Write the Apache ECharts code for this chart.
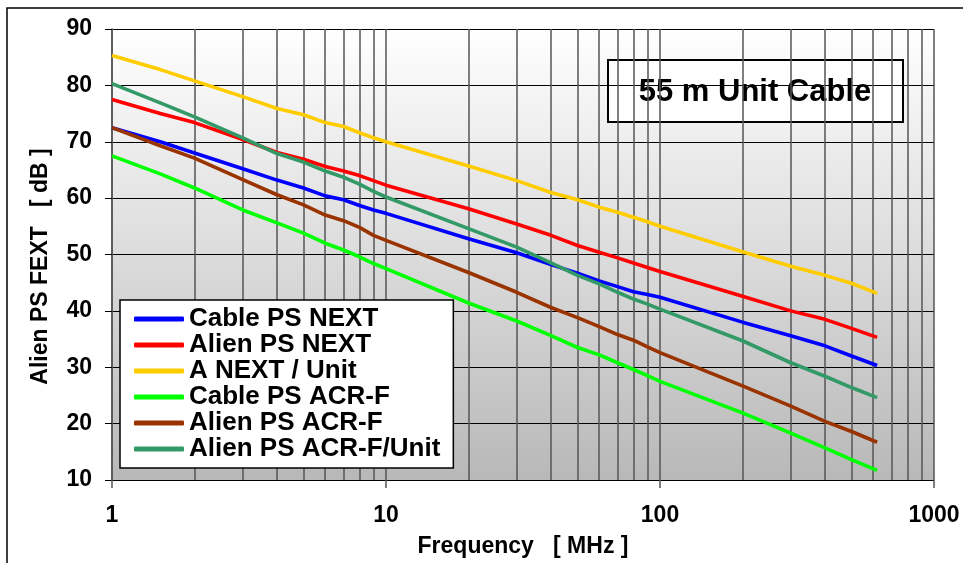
<!DOCTYPE html>
<html>
<head>
    <meta charset="utf-8"/>
    <title>55 m Unit Cable</title>
    <script src="https://cdn.jsdelivr.net/npm/echarts@6/dist/echarts.min.js"></script>
    <style>
        html, body { margin: 0; padding: 0; background: #fff; }
        #chart { width: 963px; height: 563px; }
    </style>
</head>
<body>
<div id="chart"></div>
<script>
    // frequency points [MHz]
    var freq = [1, 1.5, 2, 3, 4, 5, 6, 7, 8, 9, 10, 20, 30, 40, 50, 60, 70, 80, 90, 100, 200, 300, 400, 500, 620];

    // values [dB]
    var cablePsNext = [72.5, 70.0, 68.0, 65.2, 63.2, 61.8, 60.4, 59.7, 58.7, 57.9, 57.3, 52.8, 50.3, 48.2, 46.7, 45.3, 44.3, 43.4, 42.9, 42.4, 38.0, 35.6, 33.8, 32.0, 30.3];
    var alienPsNext = [77.5, 75.0, 73.4, 70.4, 68.1, 66.9, 65.6, 64.8, 64.0, 63.1, 62.3, 58.1, 55.4, 53.4, 51.6, 50.4, 49.4, 48.5, 47.7, 47.0, 42.6, 40.0, 38.5, 36.9, 35.3];
    var aNextUnit = [85.3, 82.8, 80.8, 78.0, 75.9, 74.8, 73.4, 72.7, 71.6, 70.7, 70.0, 65.7, 63.1, 61.0, 59.7, 58.4, 57.5, 56.6, 55.8, 55.0, 50.5, 47.9, 46.3, 44.9, 43.1];
    var cablePsAcrF = [67.5, 64.3, 61.8, 57.9, 55.6, 53.8, 52.0, 50.8, 49.6, 48.4, 47.5, 41.4, 38.2, 35.6, 33.5, 32.2, 30.8, 29.6, 28.5, 27.5, 21.9, 18.3, 15.7, 13.6, 11.7];
    var alienPsAcrF = [72.5, 69.3, 67.1, 63.3, 60.6, 58.8, 57.0, 56.0, 54.8, 53.4, 52.5, 46.8, 43.3, 40.6, 38.8, 37.2, 35.8, 34.8, 33.6, 32.6, 26.7, 23.1, 20.4, 18.6, 16.7];
    var alienPsAcrFUnit = [80.3, 76.9, 74.4, 70.7, 67.9, 66.4, 64.8, 63.7, 62.5, 61.2, 60.2, 54.6, 51.3, 48.5, 46.3, 44.8, 43.3, 42.1, 41.2, 40.3, 34.7, 30.8, 28.4, 26.4, 24.6];

    var seriesNames = ['Cable PS NEXT', 'Alien PS NEXT', 'A NEXT / Unit', 'Cable PS ACR-F', 'Alien PS ACR-F', 'Alien PS ACR-F/Unit'];
    var seriesValues = [cablePsNext, alienPsNext, aNextUnit, cablePsAcrF, alienPsAcrF, alienPsAcrFUnit];
    var seriesColors = ['#0000ff', '#ff0000', '#ffcc00', '#00ff00', '#993300', '#339966'];

    var fontFamily = '"Liberation Sans", Arial, sans-serif';

    function pairs(values) {
        var out = [];
        for (var i = 0; i < freq.length; i++) {
            out.push([freq[i], values[i]]);
        }
        return out;
    }

    var series = [];
    for (var s = 0; s < seriesNames.length; s++) {
        series.push({
            name: seriesNames[s],
            type: 'line',
            data: pairs(seriesValues[s]),
            showSymbol: false,
            symbol: 'none',
            smooth: false,
            color: seriesColors[s],
            lineStyle: {width: 3.6, color: seriesColors[s]},
            z: 3 + s
        });
    }

    var chart = echarts.init(document.getElementById('chart'), null, {renderer: 'canvas'});
    var option = {
        animation: false,
        textStyle: {fontFamily: fontFamily},
        grid: {
            left: 112,
            right: 29,
            top: 29,
            bottom: 82,
            show: true,
            borderWidth: 0,
            backgroundColor: new echarts.graphic.LinearGradient(0, 0, 0, 1, [
                {offset: 0, color: '#ffffff'},
                {offset: 1, color: '#b8b8b8'}
            ])
        },
        legend: {
            orient: 'vertical',
            left: 120,
            top: 300,
            data: seriesNames,
            icon: 'roundRect',
            itemWidth: 50,
            itemHeight: 5,
            itemGap: 0,
            itemStyle: {borderWidth: 0},
            backgroundColor: '#ffffff',
            borderColor: '#000000',
            borderWidth: 1.5,
            padding: [6, 13, 6, 14],
            textStyle: {
                fontFamily: fontFamily,
                fontWeight: 'bold',
                fontSize: 26,
                color: '#000'
            }
        },
        xAxis: {
            type: 'log',
            logBase: 10,
            min: 1,
            max: 1000,
            name: 'Frequency   [ MHz ]',
            nameLocation: 'middle',
            nameGap: 55,
            nameTextStyle: {fontFamily: fontFamily, fontWeight: 'bold', fontSize: 23, color: '#000'},
            axisLine: {show: true, lineStyle: {color: '#000', width: 1}},
            axisTick: {show: true, length: 8, lineStyle: {color: '#555', width: 1.5}},
            axisLabel: {
                margin: 24,
                fontFamily: fontFamily,
                fontWeight: 'bold',
                fontSize: 23,
                color: '#000',
                formatter: function (v) { return String(v); }
            },
            splitLine: {show: true, lineStyle: {color: '#555', width: 1.5}},
            minorTick: {show: false, splitNumber: 9},
            minorSplitLine: {show: true, lineStyle: {color: '#555', width: 1.5}}
        },
        yAxis: {
            type: 'value',
            min: 10,
            max: 90,
            interval: 10,
            name: 'Alien PS FEXT   [ dB ]',
            nameLocation: 'middle',
            nameGap: 60,
            nameTextStyle: {fontFamily: fontFamily, fontWeight: 'bold', fontSize: 23, color: '#000', padding: [0, 24, 0, 0]},
            axisLine: {show: true, lineStyle: {color: '#555', width: 1.5}},
            axisTick: {show: true, length: 7, lineStyle: {color: '#000', width: 1}},
            axisLabel: {margin: 20, fontFamily: fontFamily, fontWeight: 'bold', fontSize: 23, color: '#000'},
            splitLine: {show: true, lineStyle: {color: '#000', width: 1}}
        },
        graphic: [
            // outer frame (top and left edge)
            {
                type: 'polyline',
                silent: true,
                shape: {points: [[7, 563], [7, 8], [963, 8]]},
                style: {stroke: '#000', lineWidth: 1.5, fill: null}
            },
            // caption box
            {
                type: 'group',
                left: 607,
                top: 59,
                z: 100,
                children: [
                    {
                        type: 'rect',
                        shape: {x: 0, y: 0, width: 295, height: 62},
                        style: {fill: '#fff', stroke: '#000', lineWidth: 2}
                    },
                    {
                        type: 'text',
                        x: 147,
                        y: 32,
                        style: {
                            text: '55 m Unit Cable',
                            font: 'bold 31px ' + fontFamily,
                            fill: '#000',
                            align: 'center',
                            verticalAlign: 'middle'
                        }
                    }
                ]
            }
        ],
        series: series
    };
    chart.setOption(option);
</script>
</body>
</html>
